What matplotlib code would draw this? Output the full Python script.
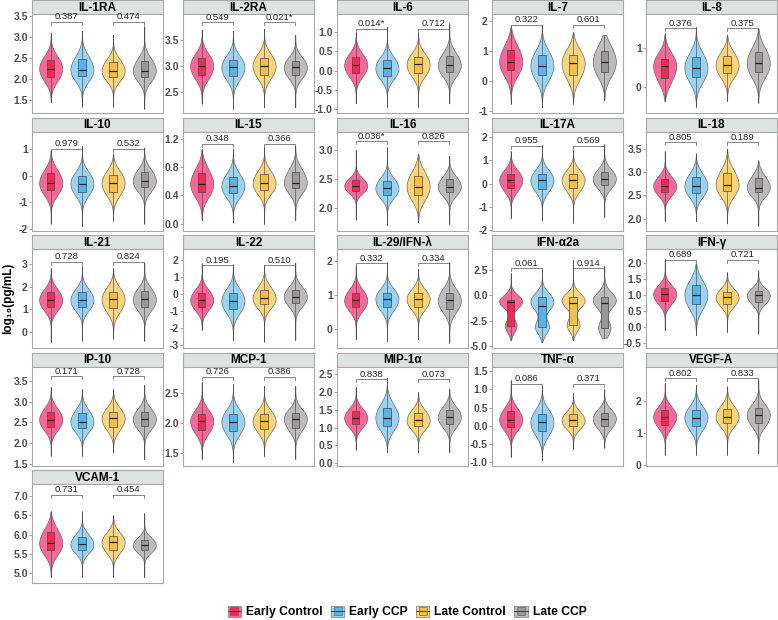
import numpy as np
import matplotlib
matplotlib.use("Agg")
import matplotlib.pyplot as plt
from matplotlib.mlab import GaussianKDE
from matplotlib.patches import Patch
from matplotlib.lines import Line2D
from matplotlib.legend_handler import HandlerTuple

plt.rcParams["font.family"] = ["Liberation Sans", "DejaVu Sans"]
plt.rcParams["axes.unicode_minus"] = False

groups = ["Early Control", "Early CCP", "Late Control", "Late CCP"]

cytokines = ["IL-1RA", "IL-2RA", "IL-6", "IL-7", "IL-8",
             "IL-10", "IL-15", "IL-16", "IL-17A", "IL-18",
             "IL-21", "IL-22", "IL-29/IFN-λ", "IFN-α2a", "IFN-γ",
             "IP-10", "MCP-1", "MIP-1α", "TNF-α", "VEGF-A",
             "VCAM-1"]

# p-values (early control vs early CCP, late control vs late CCP)
p_values = {
    "IL-1RA": ("0.387", "0.474"), "IL-2RA": ("0.549", "0.021*"),
    "IL-6": ("0.014*", "0.712"), "IL-7": ("0.322", "0.601"),
    "IL-8": ("0.376", "0.375"), "IL-10": ("0.979", "0.532"),
    "IL-15": ("0.348", "0.366"), "IL-16": ("0.036*", "0.826"),
    "IL-17A": ("0.955", "0.569"), "IL-18": ("0.805", "0.189"),
    "IL-21": ("0.728", "0.824"), "IL-22": ("0.195", "0.510"),
    "IL-29/IFN-λ": ("0.332", "0.334"), "IFN-α2a": ("0.061", "0.914"),
    "IFN-γ": ("0.689", "0.721"), "IP-10": ("0.171", "0.728"),
    "MCP-1": ("0.726", "0.386"), "MIP-1α": ("0.838", "0.073"),
    "TNF-α": ("0.086", "0.371"), "VEGF-A": ("0.802", "0.833"),
    "VCAM-1": ("0.731", "0.454"),
}

# log10 values: tails, quartiles, median (one per group)
lo = {
    "IL-1RA": [1.45, 1.35, 1.35, 1.3], "IL-2RA": [2.27, 2.17, 2.2, 2.2],
    "IL-6": [-0.86, -0.95, -0.95, -0.86], "IL-7": [-0.76, -0.87, -0.76, -0.64],
    "IL-8": [-0.35, -0.5, -0.35, -0.4], "IL-10": [-1.8, -1.9, -1.7, -1.8],
    "IL-15": [0.05, 0.02, 0.0, 0.05], "IL-16": [1.8, 1.7, 1.75, 1.72],
    "IL-17A": [-1.5, -1.6, -1.7, -1.45], "IL-18": [1.95, 1.95, 1.9, 1.85],
    "IL-21": [-0.45, -0.4, -0.3, -0.4], "IL-22": [-2.1, -2.7, -2.8, -2.7],
    "IL-29/IFN-λ": [-0.3, -0.35, -0.3, -0.4], "IFN-α2a": [-4.4, -4.6, -4.4, -4.2],
    "IFN-γ": [-0.1, -0.25, -0.15, -0.2], "IP-10": [1.7, 1.7, 1.78, 1.62],
    "MCP-1": [1.4, 1.35, 1.45, 1.4], "MIP-1α": [0.38, 0.3, 0.3, 0.3],
    "TNF-α": [-0.85, -0.95, -0.65, -0.6], "VEGF-A": [0.3, 0.3, 0.3, 0.35],
    "VCAM-1": [4.9, 4.9, 4.9, 4.9],
}
q1 = {
    "IL-1RA": [2.05, 2.07, 2.05, 2.05], "IL-2RA": [2.82, 2.8, 2.83, 2.82],
    "IL-6": [-0.06, -0.13, -0.06, -0.04], "IL-7": [0.36, 0.19, 0.21, 0.32],
    "IL-8": [0.23, 0.26, 0.36, 0.38], "IL-10": [-0.56, -0.6, -0.6, -0.44],
    "IL-15": [0.45, 0.43, 0.48, 0.5], "IL-16": [2.3, 2.23, 2.22, 2.27],
    "IL-17A": [-0.2, -0.22, -0.2, -0.08], "IL-18": [2.57, 2.56, 2.6, 2.57],
    "IL-21": [1.1, 1.1, 1.04, 1.1], "IL-22": [-0.75, -0.9, -0.6, -0.55],
    "IL-29/IFN-λ": [0.64, 0.64, 0.66, 0.6], "IFN-α2a": [-3.0, -3.1, -2.9, -3.2],
    "IFN-γ": [0.8, 0.7, 0.72, 0.78], "IP-10": [2.4, 2.37, 2.4, 2.42],
    "MCP-1": [1.88, 1.87, 1.9, 1.92], "MIP-1α": [1.09, 1.05, 1.04, 1.1],
    "TNF-α": [-0.02, -0.15, 0.0, 0.0], "VEGF-A": [1.25, 1.2, 1.3, 1.3],
    "VCAM-1": [5.61, 5.61, 5.61, 5.6],
}
med = {
    "IL-1RA": [2.25, 2.22, 2.2, 2.2], "IL-2RA": [3.0, 2.97, 3.0, 2.97],
    "IL-6": [0.14, 0.06, 0.16, 0.14], "IL-7": [0.65, 0.52, 0.6, 0.65],
    "IL-8": [0.55, 0.5, 0.57, 0.62], "IL-10": [-0.28, -0.3, -0.28, -0.2],
    "IL-15": [0.56, 0.53, 0.57, 0.58], "IL-16": [2.38, 2.34, 2.37, 2.37],
    "IL-17A": [0.15, 0.15, 0.15, 0.21], "IL-18": [2.7, 2.7, 2.73, 2.67],
    "IL-21": [1.4, 1.4, 1.43, 1.43], "IL-22": [-0.35, -0.4, -0.25, -0.15],
    "IL-29/IFN-λ": [0.84, 0.88, 0.88, 0.84], "IFN-α2a": [-0.7, -1.02, -0.8, -0.75],
    "IFN-γ": [1.02, 1.0, 0.92, 0.98], "IP-10": [2.57, 2.52, 2.6, 2.58],
    "MCP-1": [2.03, 2.02, 2.03, 2.07], "MIP-1α": [1.27, 1.27, 1.2, 1.3],
    "TNF-α": [0.17, 0.1, 0.15, 0.2], "VEGF-A": [1.5, 1.47, 1.5, 1.55],
    "VCAM-1": [5.78, 5.75, 5.8, 5.73],
}
q3 = {
    "IL-1RA": [2.45, 2.47, 2.4, 2.42], "IL-2RA": [3.15, 3.12, 3.15, 3.1],
    "IL-6": [0.35, 0.27, 0.35, 0.38], "IL-7": [1.05, 0.86, 0.88, 1.02],
    "IL-8": [0.73, 0.77, 0.8, 0.9], "IL-10": [0.08, 0.0, 0.02, 0.12],
    "IL-15": [0.72, 0.66, 0.7, 0.73], "IL-16": [2.48, 2.47, 2.55, 2.5],
    "IL-17A": [0.42, 0.42, 0.42, 0.49], "IL-18": [2.85, 2.9, 2.98, 2.87],
    "IL-21": [1.75, 1.75, 1.77, 1.78], "IL-22": [0.08, 0.08, 0.25, 0.25],
    "IL-29/IFN-λ": [1.07, 1.07, 1.07, 1.07], "IFN-α2a": [-0.5, -0.19, -0.2, -0.19],
    "IFN-γ": [1.2, 1.3, 1.1, 1.12], "IP-10": [2.76, 2.73, 2.76, 2.76],
    "MCP-1": [2.15, 2.15, 2.15, 2.16], "MIP-1α": [1.46, 1.55, 1.42, 1.5],
    "TNF-α": [0.4, 0.33, 0.33, 0.36], "VEGF-A": [1.7, 1.7, 1.75, 1.77],
    "VCAM-1": [6.06, 5.94, 5.97, 5.87],
}
hi = {
    "IL-1RA": [3.1, 3.15, 3.05, 3.25], "IL-2RA": [3.7, 3.68, 3.72, 3.6],
    "IL-6": [1.0, 1.15, 1.0, 1.24], "IL-7": [1.8, 1.88, 1.63, 1.54],
    "IL-8": [1.38, 1.55, 1.35, 1.5], "IL-10": [0.95, 1.1, 0.8, 1.05],
    "IL-15": [1.05, 1.05, 1.08, 1.1], "IL-16": [3.0, 3.05, 2.93, 2.9],
    "IL-17A": [1.4, 1.65, 1.45, 1.7], "IL-18": [3.45, 3.4, 3.5, 3.25],
    "IL-21": [2.8, 2.9, 2.8, 3.05], "IL-22": [1.8, 1.75, 1.7, 1.85],
    "IL-29/IFN-λ": [1.85, 1.95, 1.75, 1.95], "IFN-α2a": [2.2, 2.5, 3.5, 2.9],
    "IFN-γ": [2.1, 1.95, 1.7, 1.75], "IP-10": [3.35, 3.3, 3.3, 3.4],
    "MCP-1": [2.68, 2.65, 2.62, 2.62], "MIP-1α": [2.15, 2.4, 2.0, 2.1],
    "TNF-α": [1.25, 1.1, 0.9, 1.0], "VEGF-A": [2.55, 2.5, 2.45, 2.65],
    "VCAM-1": [6.6, 6.6, 6.5, 6.55],
}

# height of the comparison brackets
bracket_y = {
    "IL-1RA": 3.36, "IL-2RA": 3.84, "IL-6": 1.09, "IL-7": 1.89, "IL-8": 1.51,
    "IL-10": 1.0, "IL-15": 1.13, "IL-16": 3.15, "IL-17A": 1.64, "IL-18": 3.64,
    "IL-21": 3.1, "IL-22": 1.7, "IL-29/IFN-λ": 1.92, "IFN-α2a": 2.67, "IFN-γ": 2.08,
    "IP-10": 3.61, "MCP-1": 2.77, "MIP-1α": 2.36, "TNF-α": 1.15, "VEGF-A": 2.7,
    "VCAM-1": 7.03,
}

# y-axis ticks and limits per facet (free scales)
yticks = {
    "IL-1RA": [1.5, 2.0, 2.5, 3.0, 3.5], "IL-2RA": [2.5, 3.0, 3.5],
    "IL-6": [-1.0, -0.5, 0.0, 0.5, 1.0], "IL-7": [-1, 0, 1, 2], "IL-8": [0, 1],
    "IL-10": [-2, -1, 0, 1], "IL-15": [0.0, 0.4, 0.8, 1.2], "IL-16": [2.0, 2.5, 3.0],
    "IL-17A": [-2, -1, 0, 1, 2], "IL-18": [2.0, 2.5, 3.0, 3.5],
    "IL-21": [0, 1, 2, 3], "IL-22": [-3, -2, -1, 0, 1, 2], "IL-29/IFN-λ": [0, 1, 2],
    "IFN-α2a": [-5.0, -2.5, 0.0, 2.5], "IFN-γ": [-0.5, 0.0, 0.5, 1.0, 1.5, 2.0],
    "IP-10": [1.5, 2.0, 2.5, 3.0, 3.5], "MCP-1": [1.5, 2.0, 2.5],
    "MIP-1α": [0.0, 0.5, 1.0, 1.5, 2.0, 2.5], "TNF-α": [-1.0, -0.5, 0.0, 0.5, 1.0, 1.5],
    "VEGF-A": [0, 1, 2], "VCAM-1": [5.0, 5.5, 6.0, 6.5, 7.0],
}
ylims = {
    "IL-1RA": (1.2, 3.54), "IL-2RA": (2.09, 4.0), "IL-6": (-1.11, 1.48),
    "IL-7": (-1.07, 2.25), "IL-8": (-0.66, 1.88), "IL-10": (-2.06, 1.65),
    "IL-15": (-0.095, 1.30), "IL-16": (1.61, 3.32), "IL-17A": (-2.03, 2.25),
    "IL-18": (1.75, 3.87), "IL-21": (-0.72, 3.66), "IL-22": (-3.18, 2.65),
    "IL-29/IFN-λ": (-0.55, 2.34), "IFN-α2a": (-5.2, 4.57), "IFN-γ": (-0.65, 2.42),
    "IP-10": (1.47, 3.84), "MCP-1": (1.29, 2.94), "MIP-1α": (-0.07, 2.72),
    "TNF-α": (-1.09, 1.63), "VEGF-A": (-0.03, 3.07), "VCAM-1": (4.75, 7.31),
}

violin_colors = ["#F7679A", "#9DD3F2", "#F9D57E", "#BDBBBB"]
box_colors = ["#EF2B55", "#5AB3E6", "#F4BF48", "#999797"]

# kde bandwidth factor (IFN-a2a is bimodal)
bandwidth = {"IFN-α2a": 0.45}

W, H = 778, 620
col_left = [32, 183, 337, 492, 646]
row_top = [0, 117.5, 235, 352.5, 470]
panel_w, strip_h, panel_h = 131, 14, 99

fig = plt.figure(figsize=(W / 100, H / 100), dpi=100)


def fig_rect(x, y, w, h):
    return [x / W, 1 - (y + h) / H, w / W, h / H]


for i, name in enumerate(cytokines):
    r, c = divmod(i, 5)
    x0, y0 = col_left[c], row_top[r]

    sax = fig.add_axes(fig_rect(x0, y0, panel_w, strip_h))
    sax.set_facecolor("#DDE3E1")
    sax.set_xticks([])
    sax.set_yticks([])
    for sp in sax.spines.values():
        sp.set_color("#A9A9A9")
        sp.set_linewidth(0.8)
    sax.text(0.5, 0.45, name, ha="center", va="center", fontsize=8.5,
             fontweight="bold", transform=sax.transAxes)

    ax = fig.add_axes(fig_rect(x0, y0 + strip_h, panel_w, panel_h))
    bw = bandwidth.get(name, 1.0)
    for g in range(4):
        pos = g + 1
        kde = GaussianKDE(np.array([q1[name][g], med[name][g], q3[name][g]]), bw)
        coords = np.linspace(lo[name][g], hi[name][g], 200)
        vstats = [dict(coords=coords, vals=kde.evaluate(coords), mean=med[name][g],
                       median=med[name][g], min=lo[name][g], max=hi[name][g])]
        parts = ax.violin(vstats, positions=[pos], widths=0.74, showmeans=False,
                          showextrema=False, showmedians=False)
        for body in parts["bodies"]:
            body.set_facecolor(violin_colors[g])
            body.set_edgecolor("#5E5E5E")
            body.set_linewidth(0.45)
            body.set_alpha(1)

        bstats = [dict(med=med[name][g], q1=q1[name][g], q3=q3[name][g],
                       whislo=lo[name][g], whishi=hi[name][g], fliers=[])]
        ax.bxp(bstats, positions=[pos], widths=0.24, patch_artist=True,
               showcaps=False, showfliers=False,
               boxprops=dict(facecolor=box_colors[g], edgecolor="#4A4A4A", linewidth=0.5),
               medianprops=dict(color="#222222", linewidth=0.9),
               whiskerprops=dict(color="#4A4A4A", linewidth=0.45))

    ylo, yhi = ylims[name]
    by = bracket_y[name]
    drop = 0.03 * (yhi - ylo)
    for (a, b), lab in zip([(1, 2), (3, 4)], p_values[name]):
        ax.plot([a, a, b, b], [by - drop, by, by, by - drop], color="#555555", lw=0.5)
        ax.text((a + b) / 2, by + 0.005 * (yhi - ylo), lab, ha="center", va="bottom",
                fontsize=6.8, color="#222222")

    ax.set_xlim(0.4, 4.6)
    ax.set_ylim(ylo, yhi)
    ax.set_xticks([])
    ticks = yticks[name]
    ax.set_yticks(ticks)
    if all(float(t).is_integer() for t in ticks) and not isinstance(ticks[0], float):
        ax.set_yticklabels([f"{int(t)}" for t in ticks])
    else:
        ax.set_yticklabels([f"{t:.1f}" for t in ticks])
    ax.tick_params(axis="y", length=2, width=0.5, color="#777777", pad=1,
                   labelsize=7.5, labelcolor="#4D4D4D")
    for lbl in ax.get_yticklabels():
        lbl.set_fontweight("bold")
    for sp in ax.spines.values():
        sp.set_color("#A9A9A9")
        sp.set_linewidth(0.8)

fig.text(8 / W, 1 - 298 / H, "log₁₀(pg/mL)", rotation=90, ha="center", va="center",
         fontsize=8.5, fontweight="bold")

handles = []
for g in range(4):
    handles.append((Patch(facecolor=violin_colors[g], edgecolor="#8A8A8A", linewidth=0.6),
                    Line2D([], [], marker="s", markersize=6, markerfacecolor=box_colors[g],
                           markeredgecolor="#555555", markeredgewidth=0.4, linestyle="none"),
                    Line2D([], [], color="#333333", linewidth=0.6)))
fig.legend(handles, groups, handler_map={tuple: HandlerTuple(ndivide=1)},
           loc="center", bbox_to_anchor=(407 / W, 1 - 612 / H), ncol=4, frameon=False,
           handlelength=1.1, handleheight=1.1, handletextpad=0.4, columnspacing=0.7,
           prop=dict(size=8.7, weight="bold"))

fig.savefig("out.png", dpi=100)
